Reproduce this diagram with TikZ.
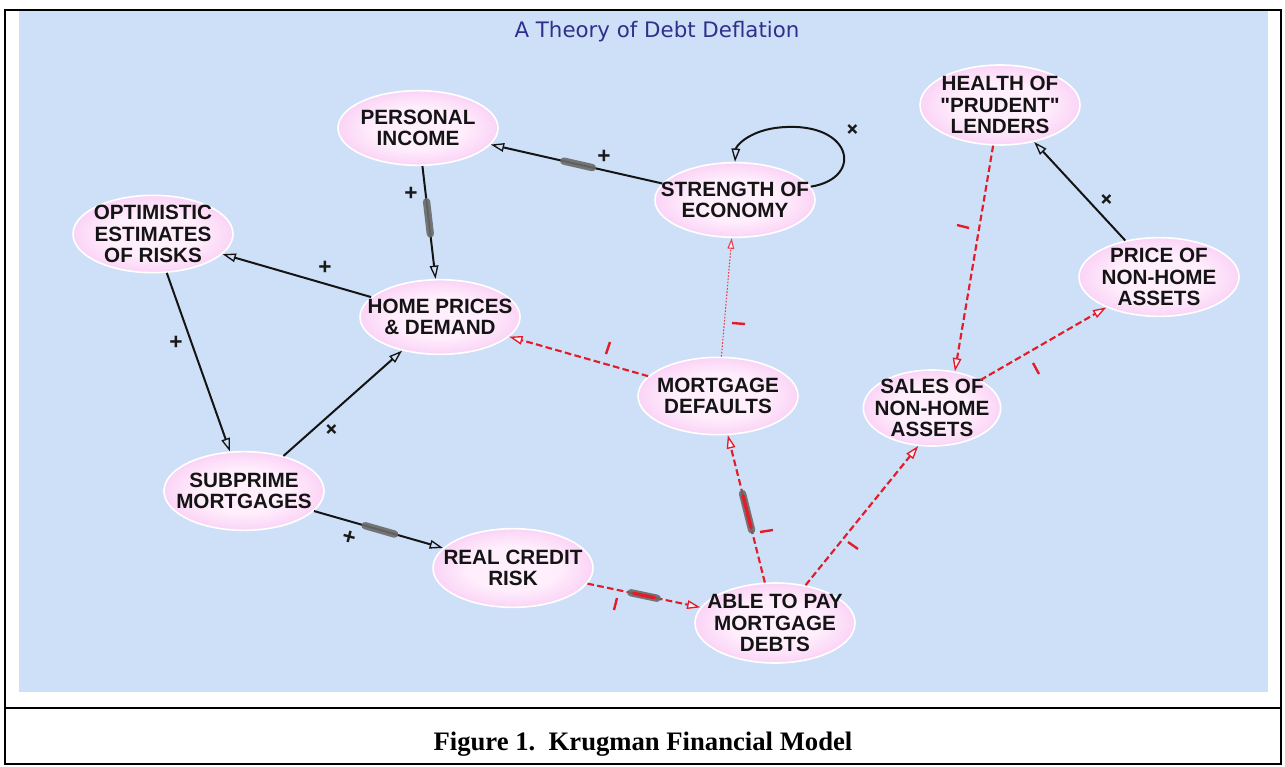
\documentclass[tikz,border=0pt]{standalone}
\usepackage{fontspec}
\setmainfont{Liberation Sans}
\newfontfamily\titlefont{DejaVu Sans}
\newfontfamily\capfont{Liberation Serif}
\usetikzlibrary{arrows.meta,shapes.geometric,calc}
\definecolor{bgblue}{RGB}{206,224,247}
\definecolor{pin}{RGB}{255,238,252}
\definecolor{pout}{RGB}{240,152,233}
\definecolor{linkred}{RGB}{228,28,40}
\definecolor{titleblue}{RGB}{48,48,140}
\definecolor{delaygray}{RGB}{105,105,105}
\pgfdeclareradialshading{bubble}{\pgfpoint{0bp}{0bp}}{color(0bp)=(pin); color(14bp)=(pin); color(50bp)=(pout)}
\tikzset{
  var/.style={ellipse, shading=bubble, draw=white, line width=1.2pt,
    minimum width=120pt, minimum height=56pt, inner sep=-25pt, align=center,
    font=\bfseries\fontsize{15.5}{16}\selectfont, text=black!92},
  poslink/.style={draw=black!92, line width=1.5pt,
    -{Triangle[open, length=10pt, width=6.5pt, line width=1pt]}},
  neglink/.style={draw=linkred, line width=1.6pt, dash pattern=on 5pt off 2.5pt,
    -{Triangle[length=10pt, width=6.5pt, fill=pin, line width=1pt]}},
  dotlink/.style={draw=linkred!85, line width=0.8pt, dash pattern=on 1.2pt off 1.2pt,
    -{Triangle[length=8pt, width=5pt, fill=pin, line width=0.8pt]}},
  delaybar/.style={draw=delaygray, line width=5.5pt, line cap=round, opacity=0.9},
  delayred/.style={draw=linkred, line width=2.6pt, line cap=round},
  sgn/.style={font=\bfseries\fontsize{17}{17}\selectfont, text=black!90, inner sep=0pt},
  minusmark/.style={draw=linkred, line width=1.8pt}
}
\begin{document}
\begin{tikzpicture}[x=0.75pt, y=-0.75pt]
\useasboundingbox (0,0) rectangle (1285,767);
% frame and background
\fill[bgblue] (19,11) rectangle (1268,692);
\draw[line width=2pt] (5,10) rectangle (1281,764);
\draw[line width=2pt] (5,708) -- (1281,708);
\node[font=\titlefont\fontsize{16}{16}\selectfont, text=titleblue] (title) at (657,32) {A Theory of Debt Deflation};
\node[font=\capfont\bfseries\fontsize{20}{20}\selectfont] (caption) at (643,744) {Figure 1.\ \ Krugman Financial Model};

% variables
\node[var] (personal) at (418,128) {PERSONAL\\INCOME};
\node[var] (strength) at (735,200) {STRENGTH OF\\ECONOMY};
\node[var, minimum height=58pt] (optimistic) at (153,234) {OPTIMISTIC\\ESTIMATES\\OF RISKS};
\node[var] (home) at (440,317) {HOME PRICES\\\& DEMAND};
\node[var, minimum height=60pt] (health) at (1000,105) {HEALTH OF\\\textquotedbl PRUDENT\textquotedbl\\LENDERS};
\node[var, minimum height=59pt] (price) at (1159,277) {PRICE OF\\NON-HOME\\ASSETS};
\node[var, minimum height=58pt] (mortgage) at (718,396) {MORTGAGE\\DEFAULTS};
\node[var, minimum width=103pt, minimum height=57pt] (sales) at (932,408) {SALES OF\\NON-HOME\\ASSETS};
\node[var, minimum height=59pt] (subprime) at (244,491) {SUBPRIME\\MORTGAGES};
\node[var, minimum height=59pt] (real) at (513,568) {REAL CREDIT\\RISK};
\node[var, minimum height=60pt] (able) at (775,623) {ABLE TO PAY\\MORTGAGE\\DEBTS};

% positive links
\draw[poslink] (strength) -- (personal);
\draw[poslink] (personal) -- (home);
\draw[poslink] (home) -- (optimistic);
\draw[poslink] (optimistic) -- (subprime);
\draw[poslink] (subprime) -- (home);
\draw[poslink] (subprime) -- (real);
\draw[poslink] (price) -- (health);
\draw[poslink] (strength.10) .. controls (866,178) and (852,118) .. (775,128)
  .. controls (748,132) and (736,146) .. (strength.north);

% negative links
\draw[neglink] (mortgage) -- (home);
\draw[dotlink] (mortgage) -- (strength);
\draw[neglink] (able) -- (mortgage);
\draw[neglink] (real) -- (able);
\draw[neglink] (able) -- (sales.250);
\draw[neglink] (health) -- (sales.58);
\draw[neglink] (sales) -- (price);

% delay marks
\draw[delaybar] ($(strength)!0.45!(personal)$) -- ($(strength)!0.54!(personal)$);
\draw[delaybar] ($(personal)!0.39!(home)$) -- ($(personal)!0.56!(home)$);
\draw[delaybar] ($(subprime)!0.45!(real)$) -- ($(subprime)!0.56!(real)$);
\draw[delaybar] ($(real)!0.45!(able)$) -- ($(real)!0.55!(able)$);
\draw[delayred] ($(real)!0.46!(able)$) -- ($(real)!0.54!(able)$);
\draw[delaybar] ($(able)!0.41!(mortgage)$) -- ($(able)!0.57!(mortgage)$);
\draw[delayred] ($(able)!0.42!(mortgage)$) -- ($(able)!0.56!(mortgage)$);

% polarity signs
\node[sgn] (p1) at (604,157) {+};
\node[sgn] (p2) at (411,194) {+};
\node[sgn] (p3) at (325,268) {+};
\node[sgn] (p4) at (176,343) {+};
\node[sgn, rotate=45] (p5) at (332,430) {+};
\node[sgn, rotate=-15] (p6) at (349,538) {+};
\node[sgn, rotate=45] (p7) at (853,130) {+};
\node[sgn, rotate=45] (p8) at (1107,200) {+};

\draw[minusmark] (610,342) -- (606,354);
\draw[minusmark] (732,323) -- (745,324);
\draw[minusmark] (760,532) -- (773,530);
\draw[minusmark] (617,598) -- (614,610);
\draw[minusmark] (848,542) -- (858,549);
\draw[minusmark] (957,225) -- (969,228);
\draw[minusmark] (1033,363) -- (1039,374);
\end{tikzpicture}
\end{document}
